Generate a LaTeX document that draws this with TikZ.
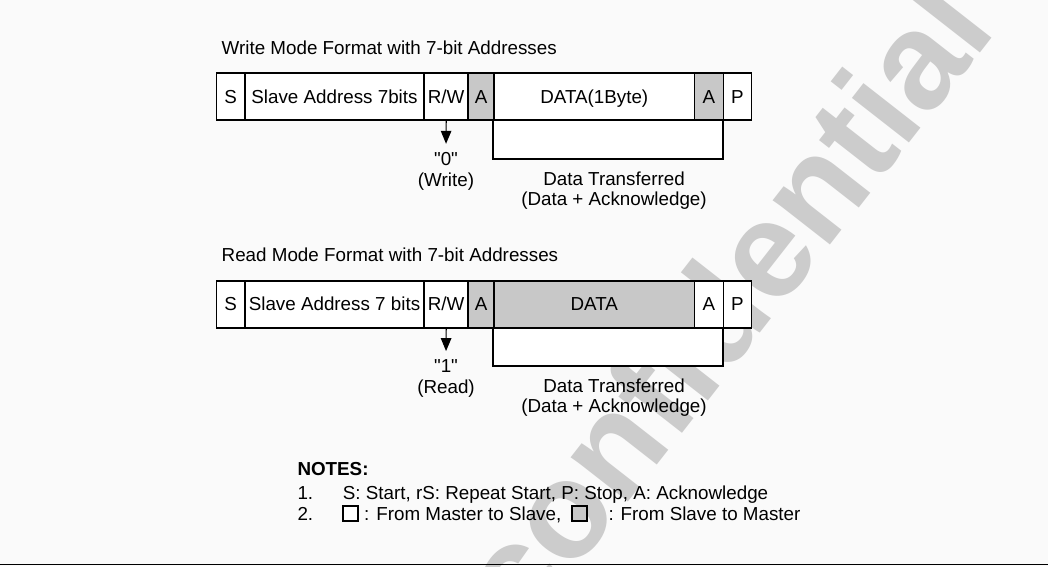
\documentclass[tikz,border=0pt]{standalone}
\usepackage{fontspec}
\setmainfont{Liberation Sans}[Ligatures=TeXOff]
\usetikzlibrary{arrows.meta}
\definecolor{ackgray}{RGB}{200,200,200}
\definecolor{pagebg}{RGB}{250,250,250}
\definecolor{markgray}{RGB}{204,204,204}
\newcommand{\qt}[1]{{\char34}#1{\char34}}
\begin{document}
\begin{tikzpicture}[x=1pt,y=-1pt,
		txt/.style={font=\fontsize{18.8}{22}\selectfont,inner sep=0pt,anchor=base},
		cell/.style={draw,line width=1.8pt,fill=white,minimum height=47pt,inner sep=0pt,
			text height=13.5pt,text depth=0pt,font=\fontsize{18.8}{22}\selectfont},
		ack/.style={cell,fill=ackgray}]
		\fill[pagebg](0,0) rectangle (1048,566);
		\useasboundingbox(0,0) rectangle (1048,566);
		\node[rotate=52,anchor=base,inner sep=0pt,text=markgray,font=\fontsize{137}{137}\selectfont\bfseries] (mark) at (761,333) {confidential};
		% one frame per mode
		\foreach \row/\y/\title/\addr/\data/\dfill/\afill/\bit/\mode in
			{w/96.8/Write Mode Format with 7-bit Addresses/Slave Address 7bits/DATA(1Byte)/white/ackgray/0/(Write),
			 r/304.1/Read Mode Format with 7-bit Addresses/Slave Address 7 bits/DATA/ackgray/white/1/(Read)}{
			\node[txt,anchor=base west] (\row title) at (221.5,\y-42.4) {\title};
			\fill[white](494,\y)rectangle(723.5,\y+61);
			\node[cell,minimum width=28.5pt] (\row s) at (230.75,\y) {S};
			\node[cell,minimum width=179pt] (\row addr) at (334.5,\y) {\addr};
			\node[cell,minimum width=44.3pt] (\row rw) at (446.15,\y) {R/W};
			\node[ack,minimum width=25.7pt] (\row a) at (481.15,\y) {A};
			\node[cell,fill=\dfill,minimum width=200.5pt] (\row data) at (594.25,\y) {\data};
			\node[cell,fill=\afill,minimum width=29pt] (\row ack) at (709,\y) {A};
			\node[cell,minimum width=28pt] (\row p) at (737.5,\y) {P};
			\draw[line width=1.8pt](\row data.south west)--++(0,37.5)-|(\row p.south west);
			\node[txt,text height=13.5pt] (\row bit) at (446,\y+68.2) {\qt{\bit}};
			\node[txt] (\row mode) at (446,\y+89.8) {\mode};
			\draw[line width=1.2pt,-{Triangle[length=13pt,width=10.5pt]},shorten >=7.5pt](\row rw.south)--(\row bit.north);
			\node[txt] (\row sent) at (614,\y+88.2) {Data Transferred};
			\node[txt] (\row sentack) at (614,\y+108.8) {(Data + Acknowledge)};
		}
		% notes
		\node[txt,anchor=base west,font=\fontsize{18.8}{22}\selectfont\bfseries] (notes) at (297.3,475.7) {NOTES:};
		\node[txt,anchor=base west] (one) at (297.3,499) {1.};
		\node[txt,anchor=base west] (onetext) at (342.7,499) {S: Start, rS: Repeat Start, P: Stop, A: Acknowledge};
		\node[txt,anchor=base west] (two) at (297.3,520) {2.};
		\node[draw,line width=2.2pt,minimum size=15pt,inner sep=0pt,fill=white] (masterbox) at (350.35,513.35) {};
		\node[txt,anchor=base west] (mastertext) at (364,520) {: From Master to Slave,};
		\node[draw,line width=2.2pt,minimum size=15pt,inner sep=0pt,fill=ackgray] (slavebox) at (579.5,513.35) {};
		\node[txt,anchor=base west] (slavetext) at (608.3,520) {: From Slave to Master};
		\draw[line width=1.5pt](0,564.3)--(1048,564.3);
\end{tikzpicture}
\end{document}
